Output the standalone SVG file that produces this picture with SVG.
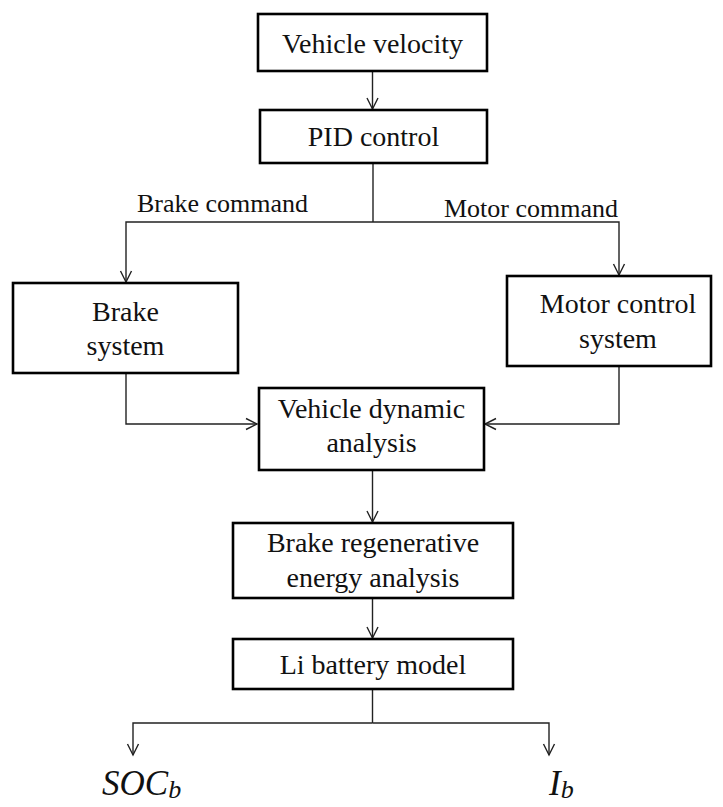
<svg xmlns="http://www.w3.org/2000/svg" width="723" height="807" viewBox="0 0 723 807">
  <style>
    .box { fill: #ffffff; stroke: #000000; stroke-width: 2.6; }
    .txt { font-family: "Liberation Serif", "Times New Roman", serif; font-size: 28px; fill: #111111; text-anchor: middle; }
    .lbl { font-family: "Liberation Serif", "Times New Roman", serif; font-size: 26px; fill: #111111; }
    .out { font-family: "Liberation Serif", "Times New Roman", serif; font-style: italic; font-size: 35px; fill: #111111; }
    .wire { fill: none; stroke: #222222; stroke-width: 1.4; }
  </style>
  <defs>
    <marker id="arrow" markerWidth="14" markerHeight="14" refX="12" refY="7" orient="auto" markerUnits="userSpaceOnUse">
      <path d="M1,1.5 L12,7 L1,12.5" fill="none" stroke="#222222" stroke-width="1.4"/>
    </marker>
  </defs>
  <rect width="723" height="807" fill="#ffffff"/>

  <g id="connectors">
    <line class="wire" x1="372.5" y1="71" x2="372.5" y2="109" marker-end="url(#arrow)"/>
    <polyline class="wire" points="373,163 373,222"/>
    <polyline class="wire" points="373,222 126,222 126,282" marker-end="url(#arrow)"/>
    <polyline class="wire" points="373,222 619,222 619,275" marker-end="url(#arrow)"/>
    <polyline class="wire" points="126,373 126,424 257,424" marker-end="url(#arrow)"/>
    <polyline class="wire" points="619,366 619,424 485,424" marker-end="url(#arrow)"/>
    <line class="wire" x1="372.5" y1="470" x2="372.5" y2="522" marker-end="url(#arrow)"/>
    <line class="wire" x1="372.5" y1="598" x2="372.5" y2="638" marker-end="url(#arrow)"/>
    <polyline class="wire" points="372.5,689 372.5,723"/>
    <polyline class="wire" points="372.5,723 133,723 133,755" marker-end="url(#arrow)"/>
    <polyline class="wire" points="372.5,723 549,723 549,755" marker-end="url(#arrow)"/>
    <text class="lbl" x="137" y="212">Brake command</text>
    <text class="lbl" x="444" y="217">Motor command</text>
  </g>

  <g id="vehicle-velocity">
    <rect class="box" x="258" y="14" width="229" height="57"/>
    <text class="txt" x="372.5" y="53">Vehicle velocity</text>
  </g>

  <g id="pid-control">
    <rect class="box" x="260" y="110" width="227" height="53"/>
    <text class="txt" x="373.5" y="146">PID control</text>
  </g>

  <g id="brake-system">
    <rect class="box" x="13" y="283" width="225" height="90"/>
    <text class="txt" x="125.5" y="321">Brake</text>
    <text class="txt" x="125.5" y="355">system</text>
  </g>

  <g id="motor-control-system">
    <rect class="box" x="507" y="276" width="204" height="90"/>
    <text class="txt" x="618" y="313">Motor control</text>
    <text class="txt" x="618" y="348">system</text>
  </g>

  <g id="vehicle-dynamic-analysis">
    <rect class="box" x="259" y="388" width="225" height="82"/>
    <text class="txt" x="371.5" y="418">Vehicle dynamic</text>
    <text class="txt" x="371.5" y="452">analysis</text>
  </g>

  <g id="brake-regenerative-energy-analysis">
    <rect class="box" x="233" y="523" width="280" height="75"/>
    <text class="txt" x="373" y="552">Brake regenerative</text>
    <text class="txt" x="373" y="587">energy analysis</text>
  </g>

  <g id="li-battery-model">
    <rect class="box" x="233" y="639" width="280" height="50"/>
    <text class="txt" x="373" y="674">Li battery model</text>
  </g>

  <g id="soc-output">
    <text class="out" x="102" y="795">SOC<tspan font-size="26" dy="3">b</tspan></text>
  </g>

  <g id="current-output">
    <text class="out" x="549" y="795">I<tspan font-size="26" dy="3">b</tspan></text>
  </g>
</svg>
